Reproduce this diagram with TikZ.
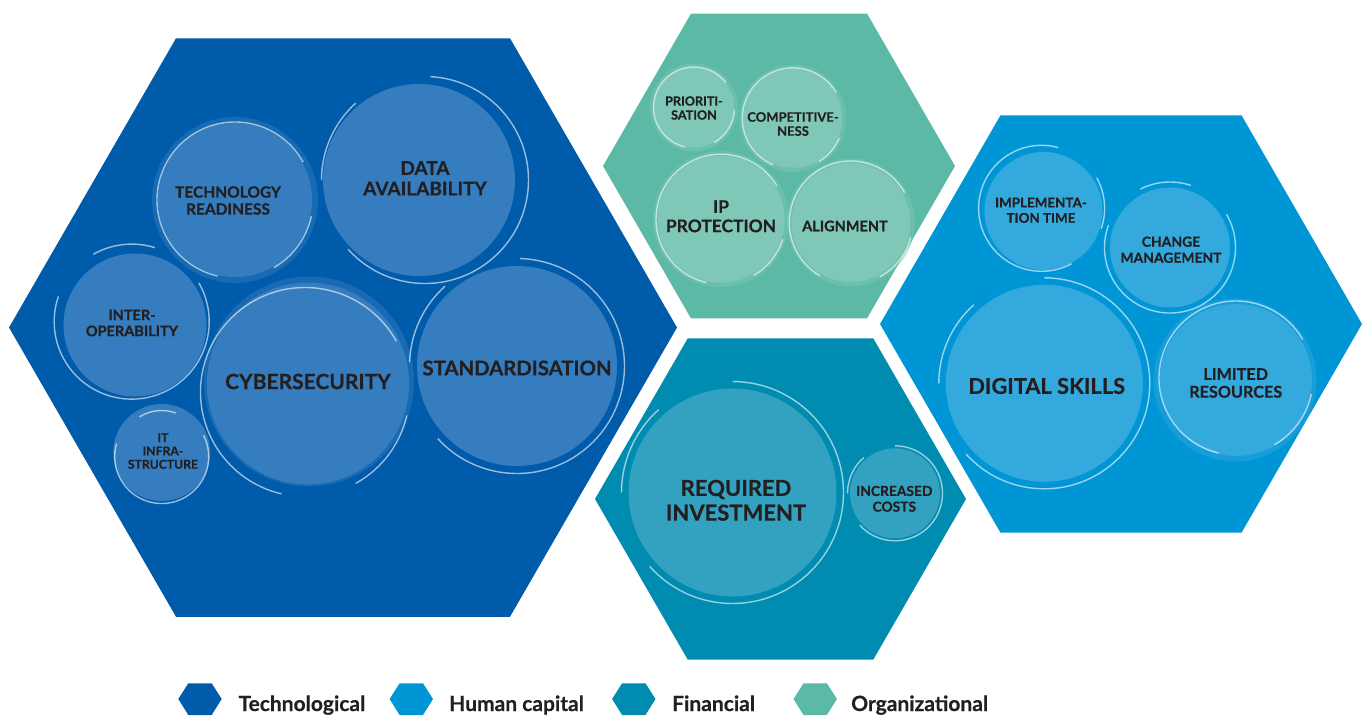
\documentclass[tikz,border=0pt]{standalone}
\usepackage{fontspec}
\setmainfont{Lato}[BoldFeatures={FakeBold=0.5}]
\definecolor{techC}{RGB}{0,91,170}
\definecolor{techL}{RGB}{53,125,190}
\definecolor{orgC}{RGB}{91,185,165}
\definecolor{orgL}{RGB}{127,200,183}
\definecolor{finC}{RGB}{0,139,176}
\definecolor{finL}{RGB}{51,161,192}
\definecolor{humC}{RGB}{0,150,214}
\definecolor{humL}{RGB}{51,169,222}
\definecolor{txtC}{RGB}{35,31,32}
\newcommand\ringarc[4]{\pgfmathsetmacro\rastart{-(#3)}\pgfmathsetmacro\raend{-(#4)}\draw[ring] (#1) ++(\rastart:#2) arc[start angle=\rastart, end angle=\raend, radius=#2];}
\newcommand\hexshape[4]{\begin{scope}[shift={(#2,#3)}]\fill[#1] (0:#4) -- (60:#4) -- (120:#4) -- (180:#4) -- (240:#4) -- (300:#4) -- cycle;\end{scope}}
\newcommand\lhex[2]{\fill[#1] (#2-21.7,699) -- (#2-11.7,683.3) -- (#2+11.7,683.3) -- (#2+21.7,699) -- (#2+11.7,715) -- (#2-11.7,715) -- cycle;}
\newcommand\fs[2]{\fontsize{#1}{#2}\selectfont\bfseries}
\begin{document}
\begin{tikzpicture}[x=1pt,y=-1pt,
  blob/.style={circle, inner sep=0pt, draw=none},
  halo/.style={circle, inner sep=0pt, draw=none, fill opacity=0.45},
  lbl/.style={text=txtC, align=center, inner sep=0pt},
  ring/.style={draw=white, draw opacity=0.6, line width=1.4pt},
  legtxt/.style={text=txtC, anchor=base west, inner sep=0pt, font=\fs{21}{24}}]
\useasboundingbox (0,0) rectangle (1367,716);
% hexagons
\hexshape{techC}{343}{327.5}{334}
\hexshape{orgC}{779}{166}{176}
\hexshape{finC}{780.5}{499}{185.5}
\hexshape{humC}{1121}{324}{241}
% ---------- Technological
\node[halo, fill=techL, minimum size=166pt] (hTR) at (235,200) {};
\node[blob, fill=techL, minimum size=154pt] (cTR) at (235,200) {};
\node[blob, fill=techL, minimum size=192pt] (cDA) at (419,180) {};
\node[blob, fill=techL, minimum size=143pt] (cIO) at (135,325) {};
\node[halo, fill=techL, minimum size=210pt] (hCY) at (309,381.5) {};
\node[blob, fill=techL, minimum size=202pt] (cCY) at (308,383.5) {};
\node[blob, fill=techL, minimum size=200pt] (cST) at (517,366) {};
\node[blob, fill=techL, minimum size=97pt] (cIT) at (161.7,452.5) {};
\coordinate (rDA) at (425,180);
\coordinate (rIO) at (131.7,321.6);
\coordinate (rCY) at (305,392);
\coordinate (rIT) at (161.7,456.5);
\ringarc{cTR.center}{78}{29}{257}
\ringarc{cTR.center}{78}{-60}{-12}
\ringarc{rDA}{103.5}{-138}{87}
\ringarc{rDA}{103.5}{132}{180}
\ringarc{rIO}{77.5}{161}{390}
\ringarc{rIO}{77.5}{72.5}{119.7}
\ringarc{rCY}{104.5}{29}{257}
\ringarc{rCY}{104.5}{-61}{-13}
\ringarc{cST.center}{107.5}{-137.5}{88.5}
\ringarc{cST.center}{107.5}{132}{178}
\ringarc{cIT.center}{42}{70}{122}
\ringarc{rIT}{47}{164}{387}
\node[lbl, font=\fs{15.5}{17}] (tTR) at (228,200.5) {TECHNOLOGY\\READINESS};
\node[lbl, font=\fs{19}{20.5}] (tDA) at (425,178.3) {DATA\\AVAILABILITY};
\node[lbl, font=\fs{14.5}{16}] (tIO) at (132,323) {INTER-\\OPERABILITY};
\node[lbl, font=\fs{21}{23}] (tCY) at (308,381.5) {CYBERSECURITY};
\node[lbl, font=\fs{20.3}{21}] (tST) at (517,368) {STANDARDISATION};
\node[lbl, font=\fs{12.2}{13.3}] (tIT) at (163,451) {IT\\INFRA-\\STRUCTURE};
% ---------- Organizational
\node[halo, fill=orgL, minimum size=88pt] (hPR) at (694,107.5) {};
\node[blob, fill=orgL, minimum size=80pt] (cPR) at (694,107.5) {};
\node[halo, fill=orgL, minimum size=107pt] (hCO) at (792.8,118.3) {};
\node[blob, fill=orgL, minimum size=99pt] (cCO) at (792.8,118.3) {};
\node[halo, fill=orgL, minimum size=136pt] (hIP) at (721,219.2) {};
\node[blob, fill=orgL, minimum size=127pt] (cIP) at (721,219.2) {};
\node[halo, fill=orgL, minimum size=128pt] (hAL) at (850.8,222.5) {};
\node[blob, fill=orgL, minimum size=119pt] (cAL) at (850.8,222.5) {};
\ringarc{cPR.center}{40.5}{38}{257}
\ringarc{cPR.center}{40.5}{-60}{-3}
\ringarc{cCO.center}{50.5}{31}{247}
\ringarc{cCO.center}{50.5}{-59}{-23}
\ringarc{cIP.center}{65}{31}{257}
\ringarc{cIP.center}{65}{-60}{-18}
\ringarc{cAL.center}{61.5}{29}{240}
\ringarc{cAL.center}{61.5}{-62}{-13.5}
\node[lbl, font=\fs{12.6}{14}] (tPR) at (694,108) {PRIORITI-\\SATION};
\node[lbl, font=\fs{13}{14}] (tCO) at (793,124) {COMPETITIVE-\\NESS};
\node[lbl, font=\fs{17.4}{19.3}] (tIP) at (721,216.3) {IP\\PROTECTION};
\node[lbl, font=\fs{14.5}{15}] (tAL) at (845,226) {ALIGNMENT};
% ---------- Financial
\node[blob, fill=finL, minimum size=208pt] (cRI) at (732.5,492.5) {};
\node[blob, fill=finL, minimum size=90pt] (cIC) at (895,493.3) {};
\ringarc{cRI.center}{111}{-138.3}{90}
\ringarc{cRI.center}{111}{131.7}{180}
\ringarc{cIC.center}{47.5}{-138}{90}
\ringarc{cIC.center}{47.5}{131}{180}
\node[lbl, font=\fs{22}{24.7}] (tRI) at (736,500.3) {REQUIRED\\INVESTMENT};
\node[lbl, font=\fs{13.8}{15.7}] (tIC) at (894.3,498.8) {INCREASED\\COSTS};
% ---------- Human capital
\node[blob, fill=humL, minimum size=118pt] (cIM) at (1043.5,211) {};
\node[blob, fill=humL, minimum size=120pt] (cCM) at (1170,247.5) {};
\node[blob, fill=humL, minimum size=197pt] (cDS) at (1044.3,383.3) {};
\node[halo, fill=humL, minimum size=163pt] (hLR) at (1235,380) {};
\node[blob, fill=humL, minimum size=152pt] (cLR) at (1236,380) {};
\coordinate (rIM) at (1041.6,208.3);
\coordinate (rLR) at (1236,378);
\ringarc{rIM}{63}{74.7}{298.4}
\ringarc{rIM}{63}{-19}{29}
\ringarc{cCM.center}{65.5}{71.5}{117}
\ringarc{cCM.center}{65.5}{160}{390.4}
\ringarc{cDS.center}{105.5}{-138}{90}
\ringarc{cDS.center}{105.5}{132}{180}
\ringarc{rLR}{77}{30}{257}
\ringarc{rLR}{77}{-60}{-12}
\node[lbl, font=\fs{13.4}{15.3}] (tIM) at (1041,210.3) {IMPLEMENTA-\\TION TIME};
\node[lbl, font=\fs{13.9}{16}] (tCM) at (1171,249.7) {CHANGE\\MANAGEMENT};
\node[lbl, font=\fs{21.8}{23}] (tDS) at (1046.7,386) {DIGITAL SKILLS};
\node[lbl, font=\fs{16.2}{17.7}] (tLR) at (1235.7,383) {LIMITED\\RESOURCES};
% ---------- Legend
\lhex{techC}{200}
\lhex{humC}{411.3}
\lhex{finC}{633.8}
\lhex{orgC}{815.2}
\node[legtxt] (lT) at (238.3,711) {Technological};
\node[legtxt] (lH) at (449,711) {Human capital};
\node[legtxt] (lF) at (672,711) {Financial};
\node[legtxt] (lO) at (851,711) {Organizational};
\end{tikzpicture}
\end{document}
